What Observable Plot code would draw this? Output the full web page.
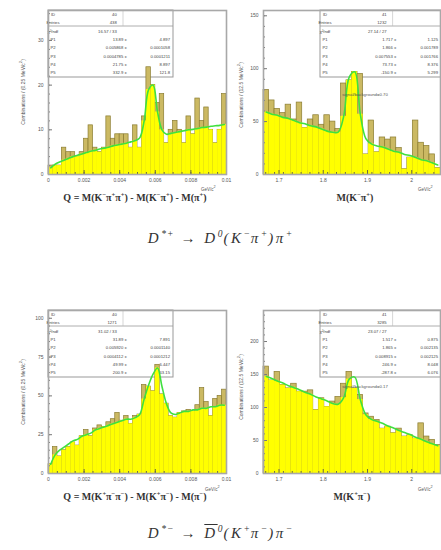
<!DOCTYPE html>
<html><head><meta charset="utf-8">
<script src="https://cdn.jsdelivr.net/npm/d3@7"></script>
<script src="https://cdn.jsdelivr.net/npm/@observablehq/plot@0.6"></script>
<style>
html,body{margin:0;padding:0;background:#fff}
body{width:441px;height:550px;overflow:hidden;position:relative;font-family:"Liberation Sans",sans-serif}
.panel{position:absolute}
.ytitle{position:absolute;font-size:5px;color:#555;white-space:nowrap;transform:translate(-50%,-50%) rotate(-90deg)}
.xtitle{position:absolute;font-family:"Liberation Serif",serif;font-weight:bold;font-size:10px;color:#333;white-space:nowrap;transform:translate(-50%,-50%)}
.xtitle sup{font-size:6.5px}
.unit{position:absolute;font-size:4.5px;color:#555;white-space:nowrap}
.eq{position:absolute;left:0;width:441px;text-align:center;font-family:"Liberation Serif",serif;font-style:italic;font-size:15px;letter-spacing:2.5px;color:#333;transform:translateY(-50%)}
.eq sup{font-size:9.5px;letter-spacing:1px}
</style></head>
<body>
<div id="p1" class="panel" style="left:0;top:0"></div>
<div id="p2" class="panel" style="left:220px;top:0"></div>
<div id="p3" class="panel" style="left:0;top:300px"></div>
<div id="p4" class="panel" style="left:220px;top:300px"></div>

<div class="ytitle" style="left:22px;top:92px">Combinations / (0.25 MeV/c<sup>2</sup>)</div>
<div class="ytitle" style="left:240px;top:95px">Combinations / (12.5 MeV/c<sup>2</sup>)</div>
<div class="ytitle" style="left:22px;top:392px">Combinations / (0.25 MeV/c<sup>2</sup>)</div>
<div class="ytitle" style="left:240px;top:387px">Combinations / (12.5 MeV/c<sup>2</sup>)</div>

<div class="unit" style="left:201px;top:185px">GeV/c<sup>2</sup></div>
<div class="unit" style="left:418px;top:185px">GeV/c<sup>2</sup></div>
<div class="unit" style="left:205px;top:485px">GeV/c<sup>2</sup></div>
<div class="unit" style="left:418px;top:485px">GeV/c<sup>2</sup></div>

<div class="xtitle" style="left:135px;top:197px">Q = M(K<sup>−</sup>π<sup>+</sup>π<sup>+</sup>) - M(K<sup>−</sup>π<sup>+</sup>) - M(π<sup>+</sup>)</div>
<div class="xtitle" style="left:355px;top:197px">M(K<sup>−</sup>π<sup>+</sup>)</div>
<div class="xtitle" style="left:135px;top:496px">Q = M(K<sup>+</sup>π<sup>−</sup>π<sup>−</sup>) - M(K<sup>+</sup>π<sup>−</sup>) - M(π<sup>−</sup>)</div>
<div class="xtitle" style="left:352px;top:496px">M(K<sup>+</sup>π<sup>−</sup>)</div>

<div class="eq" style="top:238px">D<sup>*+</sup> → D<sup>0</sup>(K<sup>−</sup>π<sup>+</sup>)π<sup>+</sup></div>
<div class="eq" style="top:533px">D<sup>*−</sup> → <span style="text-decoration:overline">D</span><sup>0</sup>(K<sup>+</sup>π<sup>−</sup>)π<sup>−</sup></div>

<script>
// ---------- binning ----------
const qStart = 0, qBinWidth = 0.00025;      // 40 bins, GeV
const mStart = 1.665, mBinWidth = 0.0125;   // 32 bins, GeV

// ---------- tick labels ----------
const qTicks = [0, 0.002, 0.004, 0.006, 0.008, 0.01];
const qTickLabels = ["0", "0.002", "0.004", "0.006", "0.008", "0.01"];
const mTicks = [1.7, 1.8, 1.9, 2.0];
const mTickLabels = ["1.7", "1.8", "1.9", "2"];
const y1Ticks = [0, 10, 20, 30];
const y2Ticks = [0, 50, 100, 150];
const y3Ticks = [0, 25, 50, 75, 100];
const y4Ticks = [0, 50, 100, 150, 200];

// ---------- D*+ : Q distribution ----------
const q1Counts = [2,2,2,6,5,5,4,5,8,11, 6,5,6,13,8,9,9,9,6,11, 6,13,24,20,16,18,7,10,12,10, 7,13,9,17,12,15,10,7,10,18];
const q1Fit    = [1.5,2.3,2.8,3.2,3.6,4.0,4.3,4.6,4.9,5.2, 5.4,5.7,5.9,6.1,6.4,6.6,6.8,7.0,7.3,7.6, 8.2,12,19,20,14,10,9,9.2,9.4,9.6, 9.8,10,10.1,10.3,10.5,10.6,10.8,10.9,11,11.2];
const q1Under  = [1.5,2,2,3.2,3.6,4,4,4.6,4.9,5.2, 5.4,5,5.9,6.1,6.4,6.6,6.8,7,6,7.6, 6,12,19,20,14,10,7,9.2,9.4,9.6, 7,10,9,10.3,10.5,10.6,10,7,10,11.2];

// ---------- D*+ : M(K-pi+) ----------
const m2Counts = [80,70,62,58,66,52,68,44,52,56,47,56,50,43,86,89,97,95,19,51,21,35,33,35,25,5,16,51,30,27,19,6];
const m2Fit    = [59,57,56,54,53,51,49,48,46,45,43,41,40,40,55,92,97,57,34,29,27,26,24,22,21,19,18,16,14,13,11,9];
const m2Under  = [59,57,56,54,53,51,49,44,46,45,43,41,40,40,55,89,97,57,19,29,21,26,24,22,21,5,16,16,14,13,11,6];

// ---------- D*- : Q distribution ----------
const q3Counts = [6,17,11,15,17,20,18,24,28,24, 29,31,30,33,35,39,34,37,32,37, 38,57,56,53,70,51,45,37,36,39, 40,41,40,44,55,46,37,48,50,54];
const q3Fit    = [6,12,15,17,19,21,22,24,25,26, 28,29,30,31,32,33,34,35,35,36, 38,48,57,64,68,56,45,39,38,39, 40,40,41,41,42,42,43,43,44,44];
const q3Under  = [6,12,11,15,17,20,18,24,25,24, 28,29,30,31,32,33,34,35,32,36, 38,48,56,53,68,51,45,37,36,39, 40,40,40,41,42,42,37,43,44,44];

// ---------- D*- : M(K+pi-) ----------
const m4Counts = [162,141,154,134,129,136,124,124,126,96,114,101,109,116,136,154,129,119,91,86,81,68,71,61,68,56,58,53,76,56,51,43];
const m4Fit    = [147,144,140,137,133,130,127,123,120,116,113,110,106,105,115,143,146,112,89,82,79,76,72,69,65,62,59,55,52,48,45,42];
const m4Under  = [147,141,140,134,129,130,124,123,120,96,113,101,106,105,115,143,129,112,89,82,79,68,71,61,65,56,58,53,52,48,45,42];

// ---------- stats boxes ----------
const stats1 = [["ID","40",""],["Entries","438",""],["χ²/ndf","16.57 / 33",""],["P1","13.89","4.897"],["P2","0.005868","0.0001058"],["P3","0.0004785","0.0001211"],["P4","21.75","8.897"],["P5","332.9","121.8"]];
const stats2 = [["ID","41",""],["Entries","1232",""],["χ²/ndf","27.14 / 27",""],["P1","1.717","1.125"],["P2","1.866","0.001789"],["P3","0.007553","0.001766"],["P4","73.73","8.376"],["P5","-150.9","5.299"]];
const stats3 = [["ID","40",""],["Entries","1271",""],["χ²/ndf","31.02 / 33",""],["P1","31.89","7.891"],["P2","0.005920","0.0001140"],["P3","0.0004112","0.0001212"],["P4","49.99","6.447"],["P5","200.9","63.15"]];
const stats4 = [["ID","41",""],["Entries","3285",""],["χ²/ndf","23.07 / 27",""],["P1","1.517","0.875"],["P2","1.865","0.002135"],["P3","0.008915","0.002125"],["P4","246.9","8.048"],["P5","-287.8","6.076"]];
const sb2 = "signal/background=0.70";
const sb4 = "signal/background=0.17";

function addStats(svg, rows, bx, by, bw, bh, sbText, sbx, sby) {
  const g = svg.insert("g", "g").attr("font-size", 4.2).attr("fill", "#444").attr("font-family", "Liberation Sans, sans-serif");
  g.append("rect").attr("x", bx).attr("y", by).attr("width", bw).attr("height", bh).attr("fill", "#fff").attr("stroke", "#999").attr("stroke-width", 1);
  g.append("line").attr("x1", bx).attr("x2", bx + bw).attr("y1", by + 16).attr("y2", by + 16).attr("stroke", "#999").attr("stroke-width", 0.8);
  g.append("line").attr("x1", bx + bw * 0.6).attr("x2", bx + bw * 0.6).attr("y1", by).attr("y2", by + 16).attr("stroke", "#bbb").attr("stroke-width", 0.6);
  rows.forEach((r, i) => {
    const y = by + 5.5 + i * 8.1 + (i >= 2 ? 1.5 : 0);
    g.append("text").attr("x", bx + 5).attr("y", y).text(r[0]);
    if (r[2] === "") {
      g.append("text").attr("x", bx + bw * 0.55).attr("y", y).attr("text-anchor", "end").text(r[1]);
    } else {
      g.append("text").attr("x", bx + bw * 0.63).attr("y", y).attr("text-anchor", "end").text(r[1] + " ±");
      g.append("text").attr("x", bx + bw - 3).attr("y", y).attr("text-anchor", "end").text(r[2]);
    }
  });
  if (sbText) {
    svg.append("text").attr("x", sbx).attr("y", sby).attr("font-size", 4.3).attr("fill", "#555")
      .attr("font-family", "Liberation Sans, sans-serif").text(sbText);
  }
}

function makePanel(id, cfg) {
  const bins = cfg.counts.map((c, i) => ({x1: cfg.start + i * cfg.bw, x2: cfg.start + (i + 1) * cfg.bw, c, u: cfg.under[i]}));
  const fitPts = cfg.fit.map((f, i) => ({x: cfg.start + (i + 0.5) * cfg.bw, f}));
  const xl = d => cfg.xLabels[cfg.xTicks.findIndex(t => Math.abs(t - d) < 1e-9)];
  const plot = Plot.plot({
    width: cfg.width, height: cfg.height,
    marginLeft: cfg.ml, marginRight: cfg.mr, marginTop: cfg.mt, marginBottom: cfg.mb,
    style: {background: "transparent", fontFamily: "Liberation Sans, sans-serif", fontSize: "5px", color: "#555", overflow: "visible"},
    x: {domain: cfg.xDomain, label: null},
    y: {domain: cfg.yDomain, label: null},
    marks: [
      Plot.rectY(bins, {x1: "x1", x2: "x2", y: "c", fill: "#cbb963", stroke: "#8a7c30", strokeWidth: 0.7}),
      Plot.rectY(bins, {x1: "x1", x2: "x2", y: "u", fill: "#ffff00"}),
      Plot.line(fitPts, {x: "x", y: "f", stroke: "#3fe03f", strokeWidth: 1.6, curve: "catmull-rom"}),
      Plot.axisX({ticks: cfg.xMinor, tickSize: -2, tickFormat: () => "", stroke: "#6b6b40"}),
      Plot.axisX({ticks: cfg.xTicks, tickSize: -4, tickFormat: () => "", stroke: "#6b6b40"}),
      Plot.axisX({ticks: cfg.xTicks, tickSize: 0, tickPadding: 4, tickFormat: xl}),
      Plot.axisY({ticks: cfg.yMinor, tickSize: -2, tickFormat: () => "", stroke: "#777"}),
      Plot.axisY({ticks: cfg.yTicks, tickSize: -4, tickFormat: () => "", stroke: "#777"}),
      Plot.axisY({ticks: cfg.yTicks, tickSize: 0, tickPadding: 5}),
      Plot.frame({stroke: "#a8a8a8", strokeWidth: 1.6})
    ]
  });
  document.getElementById(id).appendChild(plot);
  addStats(d3.select(plot), cfg.stats, cfg.box[0], cfg.box[1], cfg.box[2], cfg.box[3], cfg.sb, cfg.sbPos && cfg.sbPos[0], cfg.sbPos && cfg.sbPos[1]);
}

const qMinor = d3.range(0, 0.01001, 0.0005);
const mMinor = d3.range(1.67, 2.065, 0.02);

makePanel("p1", {counts: q1Counts, fit: q1Fit, under: q1Under, start: qStart, bw: qBinWidth,
  width: 234, height: 205, ml: 48, mr: 8, mt: 10, mb: 31,
  xDomain: [0, 0.01], yDomain: [0, 36.7], xTicks: qTicks, xLabels: qTickLabels, xMinor: qMinor,
  yTicks: y1Ticks, yMinor: d3.range(0, 37, 2), stats: stats1, box: [48, 10, 125, 67]});
makePanel("p2", {counts: m2Counts, fit: m2Fit, under: m2Under, start: mStart, bw: mBinWidth,
  width: 221, height: 205, ml: 43, mr: 1, mt: 10, mb: 31,
  xDomain: [1.665, 2.065], yDomain: [0, 155], xTicks: mTicks, xLabels: mTickLabels, xMinor: mMinor,
  yTicks: y2Ticks, yMinor: d3.range(0, 156, 10), stats: stats2, box: [100, 10, 121, 67], sb: sb2, sbPos: [145, 96]});
makePanel("p3", {counts: q3Counts, fit: q3Fit, under: q3Under, start: qStart, bw: qBinWidth,
  width: 234, height: 205, ml: 48, mr: 8, mt: 10, mb: 32,
  xDomain: [0, 0.01], yDomain: [0, 105], xTicks: qTicks, xLabels: qTickLabels, xMinor: qMinor,
  yTicks: y3Ticks, yMinor: d3.range(0, 106, 5), stats: stats3, box: [48, 10, 125, 67]});
makePanel("p4", {counts: m4Counts, fit: m4Fit, under: m4Under, start: mStart, bw: mBinWidth,
  width: 221, height: 205, ml: 43, mr: 1, mt: 10, mb: 32,
  xDomain: [1.665, 2.065], yDomain: [0, 247], xTicks: mTicks, xLabels: mTickLabels, xMinor: mMinor,
  yTicks: y4Ticks, yMinor: d3.range(0, 248, 10), stats: stats4, box: [100, 10, 121, 67], sb: sb4, sbPos: [145, 88]});
</script>
</body></html>
